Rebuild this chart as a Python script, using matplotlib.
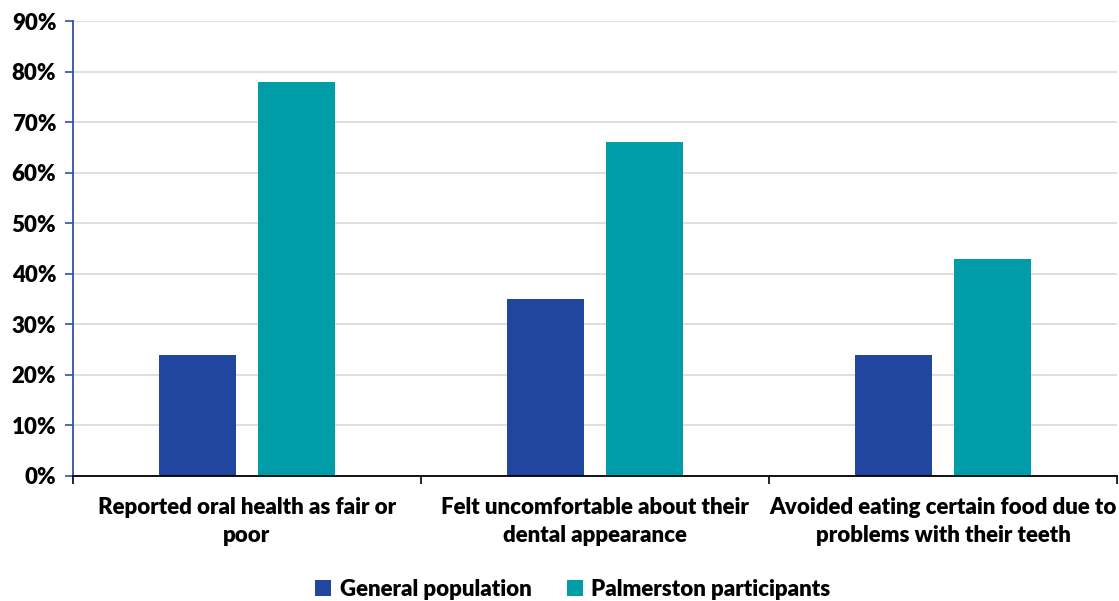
import numpy as np
import matplotlib.pyplot as plt
from matplotlib.ticker import PercentFormatter

plt.rcParams['font.family'] = ['Lato', 'DejaVu Sans']
plt.rcParams['font.weight'] = 'heavy'

# 数据
categories = ["Reported oral health as fair or\npoor",
              "Felt uncomfortable about their\ndental appearance",
              "Avoided eating certain food due to\nproblems with their teeth"]
general_population = [24, 35, 24]
palmerston_participants = [78, 66, 43]

blue = '#2146A0'
teal = '#009DA8'
axis_blue = '#2F52A8'
fs = 16

fig = plt.figure(figsize=(11.19, 6.01), dpi=100)
ax = fig.add_axes([73 / 1119, 1 - 476 / 601, (1117 - 73) / 1119, (476 - 21) / 601])

x = np.arange(len(categories))
w = 0.221
off = 0.142
ax.bar(x - off, general_population, w, color=blue, label='General population', zorder=3)
ax.bar(x + off, palmerston_participants, w, color=teal, label='Palmerston participants', zorder=3)

ax.set_xlim(-0.5, 2.5)
ax.set_ylim(0, 90)
ax.set_yticks(np.arange(0, 91, 10))
ax.yaxis.set_major_formatter(PercentFormatter(decimals=0))
ax.grid(axis='y', color='#D9D9D9', linewidth=1.2, zorder=0)

# 分类标签放在组中间，刻度线放在组之间
ax.set_xticks([-0.5, 0.5, 1.5, 2.5])
ax.set_xticklabels([])
ax.tick_params(axis='x', length=6, width=1.2, color='black', direction='out')
ax.set_xticks(x, minor=True)
ax.set_xticklabels(categories, minor=True, fontsize=fs, fontweight='heavy', linespacing=1.45)
ax.tick_params(axis='x', which='minor', length=0, pad=15)
ax.tick_params(axis='y', length=6, width=1.2, color=axis_blue, labelsize=fs, pad=6)

for s in ['top', 'right']:
    ax.spines[s].set_visible(False)
ax.spines['left'].set_color(axis_blue)
ax.spines['left'].set_linewidth(1.3)
ax.spines['bottom'].set_color('black')
ax.spines['bottom'].set_linewidth(1.3)
ax.spines['bottom'].set_zorder(4)

fig.legend(loc='center', bbox_to_anchor=(573 / 1119, 1 - 589 / 601), ncol=2, frameon=False,
           prop={'size': fs, 'weight': 'heavy'}, handlelength=0.7, handleheight=0.7,
           handletextpad=0.4, columnspacing=1.6)

fig.savefig('out.png', dpi=100)
